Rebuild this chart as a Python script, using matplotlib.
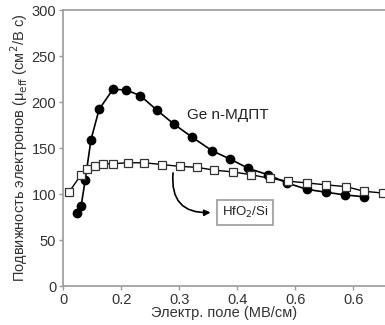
import matplotlib
matplotlib.use("Agg")
import matplotlib.pyplot as plt

plt.rcParams['font.family'] = ['Liberation Sans', 'DejaVu Sans']

# Ge n-MOSFET (filled circles)
ge_x = [0.024, 0.031, 0.038, 0.048, 0.062, 0.086, 0.109, 0.133, 0.162, 0.191,
        0.222, 0.257, 0.288, 0.319, 0.353, 0.386, 0.421, 0.453, 0.486, 0.519]
ge_y = [79, 87, 115, 159, 192, 214, 213, 207, 191, 176,
        162, 147, 138, 128, 121, 112, 105, 102, 99, 97]

# HfO2/Si (open squares)
hf_x = [0.010, 0.031, 0.041, 0.055, 0.069, 0.086, 0.112, 0.140, 0.171, 0.202,
        0.231, 0.260, 0.293, 0.324, 0.357, 0.388, 0.421, 0.453, 0.488, 0.519, 0.552]
hf_y = [102, 121, 127, 130, 133, 133, 134, 134, 132, 130,
        129, 126, 124, 121, 117, 114, 112, 110, 108, 103, 101]

x_ticks = [0, 0.1, 0.2, 0.3, 0.4, 0.5]
x_tick_labels = ["0", "0.2", "0.3", "0.4", "0.6", "0.6"]
y_ticks = [0, 50, 100, 150, 200, 250, 300]

fig = plt.figure(figsize=(3.85, 3.25), dpi=100)
ax = fig.add_axes([0.164, 0.12, 0.836, 0.849])

ax.plot(ge_x, ge_y, '-o', color='black', lw=1.2, ms=6, mfc='black', mec='black', zorder=3)
ax.plot(hf_x, hf_y, '-s', color='black', lw=1.0, ms=5.5, mfc='white', mec='#333333', mew=0.9, zorder=4)

ax.set_xlim(0, 0.555)
ax.set_ylim(0, 300)
ax.set_xticks(x_ticks)
ax.set_xticklabels(x_tick_labels)
ax.set_yticks(y_ticks)

gray = '#9a9a9a'
for s in ['left', 'bottom', 'top']:
    ax.spines[s].set_color(gray)
    ax.spines[s].set_linewidth(1.2)
ax.spines['right'].set_visible(False)
ax.tick_params(axis='both', colors=gray, labelcolor='#333333', labelsize=10.5,
               length=3, width=1, direction='out', pad=2)

ax.set_xlabel("Электр. поле (МВ/см)", fontsize=10.5, color='#333333', labelpad=-1)
ax.set_ylabel("Подвижность электронов (μ$_{\\rm eff}$ (см$^2$/В с)", fontsize=10.5,
              color='#333333', labelpad=1)

ax.text(0.214, 186, "Ge n-МДПТ", fontsize=11, color='#222222', ha='left', va='center')

ax.annotate("HfO$_2$/Si", xy=(0.259, 80), xytext=(0.314, 80),
            fontsize=9.5, color='#222222', ha='center', va='center',
            bbox=dict(boxstyle='square,pad=0.35', fc='white', ec=gray, lw=1.2))
ax.annotate("", xy=(0.259, 80), xytext=(0.190, 126),
            arrowprops=dict(arrowstyle='-|>', color='black', lw=1.2,
                            connectionstyle='arc3,rad=0.6', mutation_scale=9))

fig.savefig("out.png", dpi=100)
